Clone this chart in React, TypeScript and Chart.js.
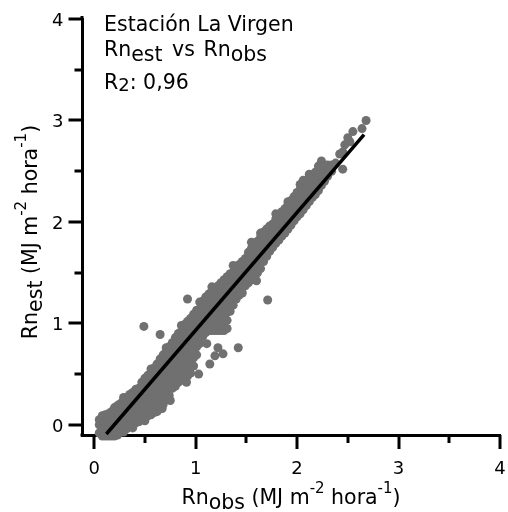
import React, { useEffect, useRef } from "react";
import { Chart, registerables } from "chart.js";

Chart.register(...registerables);

const FONT = '"DejaVu Sans", "Liberation Sans", Arial, sans-serif';

// Observed Rn (x) columns and the estimated Rn (y) values read at each column
const obsColumns: number[] = [
  0.05, 0.08, 0.11, 0.14, 0.17, 0.2, 0.23, 0.26, 0.29, 0.32, 0.35, 0.38, 0.41, 0.44, 0.47, 0.5,
  0.53, 0.56, 0.59, 0.62, 0.65, 0.68, 0.71, 0.74, 0.77, 0.8, 0.83, 0.86, 0.89, 0.92, 0.95, 0.98,
  1.01, 1.04, 1.07, 1.1, 1.13, 1.16, 1.19, 1.22, 1.25, 1.28, 1.31, 1.34, 1.37, 1.4, 1.43, 1.46,
  1.49, 1.52, 1.55, 1.58, 1.61, 1.64, 1.67, 1.7, 1.73, 1.76, 1.79, 1.82, 1.85, 1.88, 1.91, 1.94,
  1.97, 2.0, 2.03, 2.06, 2.09, 2.12, 2.15, 2.18, 2.21, 2.24, 2.27, 2.3, 2.34, 2.38, 2.42, 2.45,
  2.47, 2.5, 2.52, 2.55, 2.64, 2.68,
];

const estColumns: number[][] = [
  [-0.16, -0.08, 0.0, 0.05],
  [-0.19, -0.11, -0.03, 0.04, 0.09],
  [-0.19, -0.11, -0.03, 0.04, 0.1],
  [-0.19, -0.11, -0.03, 0.04, 0.11],
  [-0.19, -0.11, -0.03, 0.05, 0.13],
  [-0.19, -0.11, -0.03, 0.05, 0.12, 0.17],
  [-0.18, -0.1, -0.02, 0.06, 0.13, 0.19],
  [-0.15, -0.07, 0.01, 0.09, 0.16, 0.21],
  [-0.07, 0.01, 0.09, 0.17, 0.24, 0.27],
  [-0.04, 0.04, 0.12, 0.2, 0.27],
  [-0.01, 0.07, 0.15, 0.23, 0.3],
  [-0.03, 0.05, 0.12, 0.2, 0.27, 0.32],
  [0.02, 0.1, 0.18, 0.26, 0.35],
  [0.03, 0.11, 0.19, 0.27, 0.33, 0.36],
  [0.05, 0.13, 0.21, 0.29, 0.36, 0.42],
  [0.04, 0.12, 0.2, 0.28, 0.35, 0.42, 0.46],
  [0.09, 0.17, 0.25, 0.33, 0.41, 0.49],
  [0.1, 0.18, 0.26, 0.34, 0.42, 0.5, 0.55],
  [0.12, 0.2, 0.28, 0.36, 0.44, 0.52, 0.56],
  [0.13, 0.21, 0.29, 0.37, 0.45, 0.53, 0.6],
  [0.17, 0.25, 0.33, 0.41, 0.49, 0.57, 0.65],
  [0.2, 0.28, 0.36, 0.44, 0.52, 0.6, 0.69],
  [0.25, 0.33, 0.41, 0.49, 0.57, 0.65, 0.72, 0.76],
  [0.29, 0.37, 0.45, 0.53, 0.61, 0.69, 0.77],
  [0.36, 0.44, 0.52, 0.6, 0.68, 0.76, 0.81],
  [0.38, 0.46, 0.54, 0.62, 0.7, 0.78, 0.86],
  [0.42, 0.5, 0.58, 0.66, 0.74, 0.82, 0.9],
  [0.44, 0.52, 0.6, 0.68, 0.76, 0.84, 0.92, 0.98],
  [0.5, 0.58, 0.66, 0.74, 0.82, 0.9, 0.99],
  [0.48, 0.56, 0.64, 0.72, 0.8, 0.88, 0.96, 1.02],
  [0.51, 0.59, 0.67, 0.75, 0.83, 0.91, 0.99, 1.05],
  [0.58, 0.66, 0.74, 0.82, 0.9, 0.98, 1.05, 1.09],
  [0.69, 0.77, 0.85, 0.93, 1.01, 1.08, 1.13],
  [0.8, 0.88, 0.96, 1.04, 1.12, 1.21],
  [0.87, 0.95, 1.03, 1.11, 1.18, 1.22],
  [0.91, 0.99, 1.07, 1.15, 1.22, 1.26],
  [0.93, 1.01, 1.09, 1.17, 1.25, 1.29],
  [0.93, 1.01, 1.09, 1.17, 1.25, 1.32, 1.36],
  [0.93, 1.01, 1.09, 1.17, 1.25, 1.33],
  [0.93, 1.01, 1.09, 1.17, 1.25, 1.33, 1.37],
  [0.93, 1.01, 1.09, 1.17, 1.25, 1.33, 1.4],
  [0.93, 1.01, 1.09, 1.17, 1.25, 1.33, 1.41, 1.43],
  [0.95, 1.03, 1.11, 1.19, 1.27, 1.35, 1.42, 1.46],
  [1.12, 1.2, 1.28, 1.36, 1.44, 1.49],
  [1.18, 1.26, 1.34, 1.42, 1.5, 1.57],
  [1.24, 1.32, 1.4, 1.48, 1.55],
  [1.28, 1.36, 1.44, 1.52, 1.58],
  [1.3, 1.38, 1.46, 1.54, 1.61],
  [1.37, 1.45, 1.53, 1.6, 1.64],
  [1.4, 1.48, 1.56, 1.64, 1.7],
  [1.43, 1.51, 1.59, 1.67, 1.74, 1.8],
  [1.46, 1.54, 1.62, 1.7, 1.78],
  [1.5, 1.58, 1.66, 1.74, 1.81],
  [1.54, 1.62, 1.7, 1.78, 1.85, 1.89],
  [1.61, 1.69, 1.77, 1.84, 1.9],
  [1.66, 1.74, 1.82, 1.88, 1.93],
  [1.71, 1.79, 1.87, 1.93, 1.96],
  [1.75, 1.83, 1.91, 1.98],
  [1.79, 1.87, 1.95, 2.03, 2.08],
  [1.82, 1.9, 1.98, 2.06],
  [1.86, 1.94, 2.02, 2.1],
  [1.89, 1.97, 2.05, 2.13],
  [1.93, 2.01, 2.09, 2.17, 2.2],
  [1.97, 2.05, 2.13, 2.21],
  [2.01, 2.09, 2.17, 2.25],
  [2.05, 2.13, 2.21, 2.29],
  [2.08, 2.16, 2.24, 2.32, 2.37],
  [2.12, 2.2, 2.28, 2.36, 2.41],
  [2.16, 2.24, 2.32, 2.4],
  [2.2, 2.28, 2.36, 2.43, 2.47],
  [2.24, 2.32, 2.4, 2.46],
  [2.27, 2.35, 2.43, 2.49],
  [2.31, 2.39, 2.47, 2.55],
  [2.36, 2.44, 2.52, 2.6],
  [2.4, 2.48, 2.55],
  [2.45, 2.53, 2.56],
  [2.5, 2.56],
  [2.58],
  [2.67],
  [2.52, 2.69],
  [2.76],
  [2.83],
  [2.79],
  [2.89],
  [2.92],
  [3.0],
];

// Isolated points away from the main cloud
const outlierObs: number[] = [0.49, 0.65, 0.92, 1.71, 1.42, 1.11, 1.22, 1.27, 1.19, 1.14, 1.03, 0.91, 0.75, 0.67, 1.6, 1.6];
const outlierEst: number[] = [0.97, 0.89, 1.24, 1.23, 0.76, 0.8, 0.76, 0.7, 0.68, 0.6, 0.5, 0.42, 0.24, 0.16, 1.42, 1.49];

// Regression line end points
const fitObs: number[] = [0.12, 2.66];
const fitEst: number[] = [-0.09, 2.86];

// Axis ticks
const majorTicks: number[] = [0, 1, 2, 3, 4];
const minorTicks: number[] = [0.5, 1.5, 2.5, 3.5];

const stationLabel = "Estación La Virgen";
const r2Label = "0,96";

type Part = { t: string; size: number; dy: number; gap?: number };

function partsWidth(ctx: CanvasRenderingContext2D, parts: Part[]): number {
  let w = 0;
  for (const p of parts) {
    ctx.font = `${p.size}px ${FONT}`;
    w += ctx.measureText(p.t).width + (p.gap || 0);
  }
  return w;
}

function drawParts(ctx: CanvasRenderingContext2D, x: number, y: number, parts: Part[]) {
  let cx = x;
  for (const p of parts) {
    ctx.font = `${p.size}px ${FONT}`;
    ctx.fillText(p.t, cx, y + p.dy);
    cx += ctx.measureText(p.t).width + (p.gap || 0);
  }
}

const TS = 20.5;

const decorPlugin = {
  id: "decor",
  beforeDatasetsDraw(chart: any) {
    const ctx: CanvasRenderingContext2D = chart.ctx;
    const xs = chart.scales.x;
    const ys = chart.scales.y;
    const area = chart.chartArea;
    const axisY = area.bottom;
    const axisX = area.left;
    ctx.save();
    ctx.strokeStyle = "#000";
    ctx.lineWidth = 3;
    ctx.lineCap = "butt";
    ctx.beginPath();
    for (const v of majorTicks) {
      const px = Math.round(xs.getPixelForValue(v));
      ctx.moveTo(px, axisY);
      ctx.lineTo(px, axisY + 14);
      const py = Math.round(ys.getPixelForValue(v));
      ctx.moveTo(axisX, py);
      ctx.lineTo(axisX - 13.5, py);
    }
    for (const v of minorTicks) {
      const px = Math.round(xs.getPixelForValue(v));
      ctx.moveTo(px, axisY);
      ctx.lineTo(px, axisY + 8);
      const py = Math.round(ys.getPixelForValue(v));
      ctx.moveTo(axisX, py);
      ctx.lineTo(axisX - 7.5, py);
    }
    // small extension of the y axis above the top tick
    ctx.moveTo(axisX, area.top);
    ctx.lineTo(axisX, area.top - 3);
    ctx.stroke();
    // corner join
    ctx.fillStyle = "#000";
    ctx.fillRect(axisX - 1.5, axisY - 1.5, 3, 3);

    // tick labels
    ctx.font = `18px ${FONT}`;
    ctx.textBaseline = "alphabetic";
    ctx.textAlign = "center";
    for (const v of majorTicks) {
      ctx.fillText(String(v), xs.getPixelForValue(v), axisY + 39);
    }
    ctx.textAlign = "right";
    for (const v of majorTicks) {
      ctx.fillText(String(v), axisX - 18.5, ys.getPixelForValue(v) + 7);
    }

    ctx.textAlign = "left";
    // x title
    const xParts: Part[] = [
      { t: "Rn", size: TS, dy: 0 },
      { t: "obs", size: TS, dy: 4.5 },
      { t: " (MJ m", size: TS, dy: 0 },
      { t: "-2", size: 15, dy: -11 },
      { t: " hora", size: TS, dy: 0 },
      { t: "-1", size: 15, dy: -11 },
      { t: ")", size: TS, dy: 0 },
    ];
    const xw = partsWidth(ctx, xParts);
    drawParts(ctx, (area.left + area.right) / 2 - xw / 2, 504, xParts);

    // y title
    const yParts: Part[] = [
      { t: "Rn", size: TS, dy: 0 },
      { t: "est", size: TS, dy: 4.5 },
      { t: " (MJ m", size: TS, dy: 0 },
      { t: "-2", size: 15, dy: -11 },
      { t: " hora", size: TS, dy: 0 },
      { t: "-1", size: 15, dy: -11 },
      { t: ")", size: TS, dy: 0 },
    ];
    const yw = partsWidth(ctx, yParts);
    ctx.save();
    ctx.translate(37, (area.top + area.bottom) / 2 + 5);
    ctx.rotate(-Math.PI / 2);
    drawParts(ctx, -yw / 2, 0, yParts);
    ctx.restore();

    // annotation
    drawParts(ctx, 104, 30.5, [{ t: stationLabel, size: TS, dy: 0 }]);
    drawParts(ctx, 104, 56, [
      { t: "Rn", size: TS, dy: 0 },
      { t: "est", size: TS, dy: 4.5, gap: 3 },
      { t: " vs ", size: TS, dy: 0, gap: 2 },
      { t: "Rn", size: TS, dy: 0 },
      { t: "obs", size: TS, dy: 4.5 },
    ]);
    drawParts(ctx, 104, 89, [
      { t: "R", size: TS, dy: 0 },
      { t: "2", size: 18, dy: 1.5 },
      { t: ": " + r2Label, size: TS, dy: 0 },
    ]);
    ctx.restore();
  },
};

export default function App() {
  const canvasRef = useRef<HTMLCanvasElement | null>(null);

  useEffect(() => {
    const canvas = canvasRef.current;
    if (!canvas) return;

    const scatterPoints: { x: number; y: number }[] = [];
    obsColumns.forEach((x, i) => {
      estColumns[i].forEach((y) => scatterPoints.push({ x, y }));
    });
    outlierObs.forEach((x, i) => scatterPoints.push({ x, y: outlierEst[i] }));

    const fitPoints = fitObs.map((x, i) => ({ x, y: fitEst[i] }));

    const chart = new Chart(canvas, {
      type: "scatter",
      data: {
        datasets: [
          {
            type: "line",
            label: "fit",
            data: fitPoints,
            borderColor: "#000000",
            borderWidth: 3.5,
            pointRadius: 0,
            fill: false,
            showLine: true,
            clip: false,
          } as any,
          {
            type: "scatter",
            label: "Rn",
            data: scatterPoints,
            backgroundColor: "#707070",
            borderWidth: 0,
            pointRadius: 4.5,
            pointHoverRadius: 4.5,
            clip: false,
          } as any,
        ],
      },
      options: {
        animation: false,
        responsive: false,
        devicePixelRatio: 1,
        events: [],
        layout: { padding: { top: 19, right: 8, bottom: 0, left: 0 } },
        plugins: {
          legend: { display: false },
          tooltip: { enabled: false },
          title: { display: false },
        },
        scales: {
          x: {
            type: "linear",
            min: -0.12,
            max: 4,
            grid: { display: false, drawTicks: false },
            border: { display: true, color: "#000", width: 3 },
            ticks: { display: false },
            afterFit: (s: any) => {
              s.height = 77;
            },
          },
          y: {
            type: "linear",
            min: -0.1,
            max: 4,
            grid: { display: false, drawTicks: false },
            border: { display: true, color: "#000", width: 3 },
            ticks: { display: false },
            afterFit: (s: any) => {
              s.width = 82;
            },
          },
        },
      },
      plugins: [decorPlugin],
    });

    return () => chart.destroy();
  }, []);

  return (
    <div style={{ position: "absolute", left: 0, top: 0, width: 508, height: 512, background: "#fff" }}>
      <canvas ref={canvasRef} width={508} height={512} style={{ display: "block" }} />
    </div>
  );
}
